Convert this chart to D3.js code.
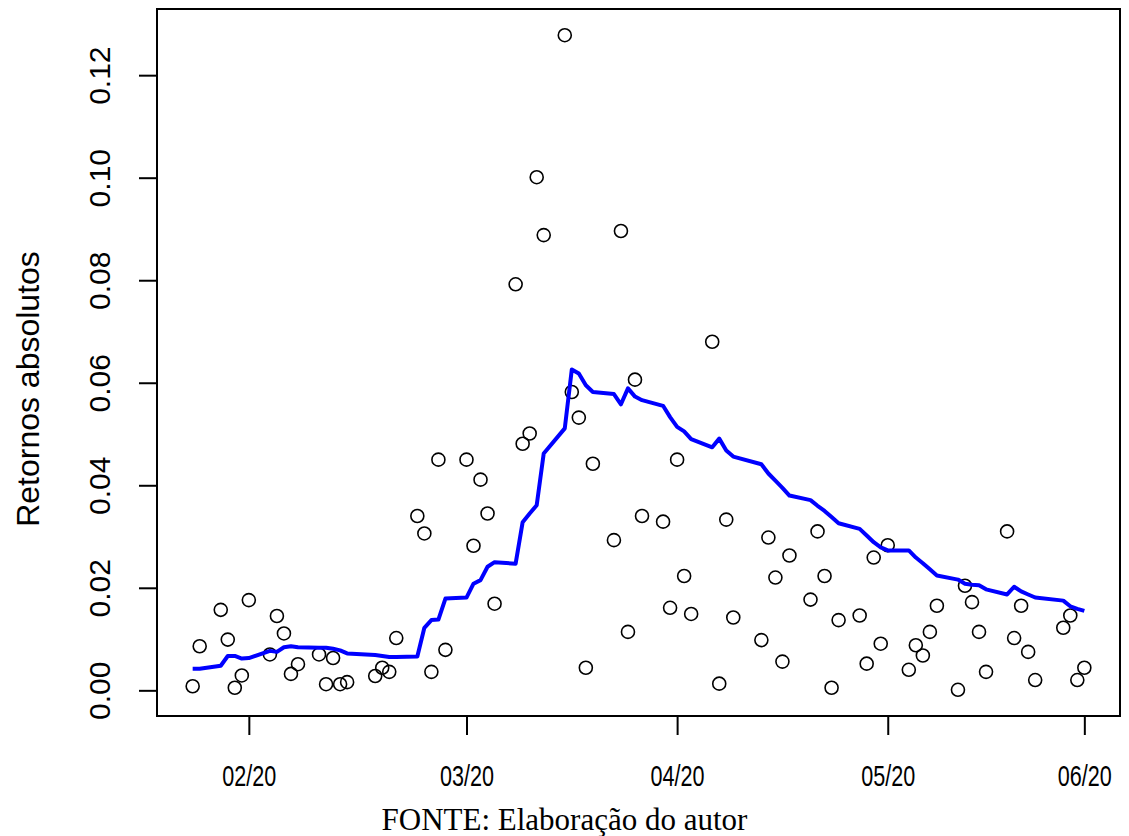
<!DOCTYPE html>
<html>
<head>
<meta charset="utf-8">
<script src="https://cdn.jsdelivr.net/npm/d3@7"></script>
<style>
body{margin:0;background:#fff;}
svg text{fill:#000;}
</style>
</head>
<body>
<div id="myDiv"></div>
<script>
//Trading days shown in the chart
var dates = [
    "2020-01-23","2020-01-24","2020-01-27","2020-01-28","2020-01-29","2020-01-30","2020-01-31",
    "2020-02-03","2020-02-04","2020-02-05","2020-02-06","2020-02-07",
    "2020-02-10","2020-02-11","2020-02-12","2020-02-13","2020-02-14",
    "2020-02-18","2020-02-19","2020-02-20","2020-02-21",
    "2020-02-24","2020-02-25","2020-02-26","2020-02-27","2020-02-28",
    "2020-03-02","2020-03-03","2020-03-04","2020-03-05","2020-03-06",
    "2020-03-09","2020-03-10","2020-03-11","2020-03-12","2020-03-13",
    "2020-03-16","2020-03-17","2020-03-18","2020-03-19","2020-03-20",
    "2020-03-23","2020-03-24","2020-03-25","2020-03-26","2020-03-27",
    "2020-03-30","2020-03-31","2020-04-01","2020-04-02","2020-04-03",
    "2020-04-06","2020-04-07","2020-04-08","2020-04-09",
    "2020-04-13","2020-04-14","2020-04-15","2020-04-16","2020-04-17",
    "2020-04-20","2020-04-21","2020-04-22","2020-04-23","2020-04-24",
    "2020-04-27","2020-04-28","2020-04-29","2020-04-30","2020-05-01",
    "2020-05-04","2020-05-05","2020-05-06","2020-05-07","2020-05-08",
    "2020-05-11","2020-05-12","2020-05-13","2020-05-14","2020-05-15",
    "2020-05-18","2020-05-19","2020-05-20","2020-05-21","2020-05-22",
    "2020-05-26","2020-05-27","2020-05-28","2020-05-29"
];

//Absolute returns (circles)
var absReturns = [
    0.0008,0.0086,0.0157,0.0099,0.0005,0.0029,0.0176,
    0.0070,0.0145,0.0111,0.0032,0.0051,
    0.0070,0.0012,0.0063,0.0012,0.0016,
    0.0028,0.0044,0.0036,0.0102,
    0.0340,0.0306,0.0036,0.0450,0.0079,
    0.0450,0.0282,0.0411,0.0345,0.0169,
    0.0792,0.0481,0.0501,0.1001,0.0888,
    0.1278,0.0582,0.0532,0.0044,0.0442,
    0.0293,0.0896,0.0114,0.0606,0.0340,
    0.0329,0.0161,0.0450,0.0223,0.0149,
    0.0680,0.0013,0.0333,0.0142,
    0.0098,0.0298,0.0220,0.0056,0.0263,
    0.0177,0.0310,0.0223,0.0005,0.0137,
    0.0146,0.0052,0.0259,0.0091,0.0283,
    0.0040,0.0088,0.0068,0.0114,0.0165,
    0.0001,0.0204,0.0172,0.0114,0.0036,
    0.0310,0.0102,0.0165,0.0075,0.0020,
    0.0122,0.0146,0.0020,0.0044
];

//Moving average (blue line)
var movingAvg = [
    0.0042,0.0042,0.0048,0.0067,0.0067,0.0062,0.0063,
    0.0077,0.0075,0.0084,0.0086,0.0084,
    0.0083,0.0083,0.0081,0.0078,0.0072,
    0.0069,0.0067,0.0065,0.0065,
    0.0066,0.0122,0.0137,0.0138,0.0179,
    0.0181,0.0208,0.0215,0.0241,0.0250,
    0.0247,0.0328,0.0345,0.0361,0.0462,
    0.0511,0.0626,0.0618,0.0595,0.0582,
    0.0578,0.0558,0.0589,0.0573,0.0566,
    0.0555,0.0533,0.0514,0.0505,0.0490,
    0.0474,0.0491,0.0468,0.0456,
    0.0441,0.0423,0.0409,0.0395,0.0380,
    0.0371,0.0360,0.0350,0.0338,0.0326,
    0.0315,0.0302,0.0289,0.0279,0.0273,
    0.0273,0.0259,0.0248,0.0236,0.0224,
    0.0216,0.0208,0.0206,0.0205,0.0197,
    0.0187,0.0202,0.0193,0.0187,0.0181,
    0.0175,0.0164,0.0159,0.0155
];

//Axis ticks
var tickDates = ["2020-01-31","2020-03-02","2020-04-01","2020-05-01","2020-05-29"];
var tickLabels = ["02/20","03/20","04/20","05/20","06/20"];
var yTicks = [0, 0.02, 0.04, 0.06, 0.08, 0.10, 0.12];

var parseDate = d3.timeParse("%Y-%m-%d");
var sansFont = "'Liberation Sans', Arial, sans-serif";

//Build rows for the marks
var data = dates.map(function(d, i){
    return {date: parseDate(d), value: absReturns[i], ma: movingAvg[i]};
});

//Plot box (window.top is reserved, so use other names)
var boxLeft = 157, boxRight = 1120, boxTop = 9, boxBottom = 716;

//Scales with 4% padding like R
var xExt = d3.extent(data, function(d){ return d.date; });
var xPad = (xExt[1] - xExt[0]) * 0.04;
var xScale = d3.scaleTime()
    .domain([new Date(+xExt[0] - xPad), new Date(+xExt[1] + xPad)])
    .range([boxLeft, boxRight]);

var yExt = d3.extent(absReturns);
var yPad = (yExt[1] - yExt[0]) * 0.04;
var yScale = d3.scaleLinear()
    .domain([yExt[0] - yPad, yExt[1] + yPad])
    .range([boxBottom, boxTop]);

//Create an SVG Container
var svg = d3.select("#myDiv").append("svg")
    .attr("width", 1129)
    .attr("height", 836)
    .style("background", "#fff");

//Points
svg.append("g").selectAll("circle")
    .data(data)
    .enter()
    .append("circle")
        .attr("cx", function(d){ return xScale(d.date); })
        .attr("cy", function(d){ return yScale(d.value); })
        .attr("r", 6.5)
        .attr("fill", "none")
        .attr("stroke", "#000")
        .attr("stroke-width", 1.6);

//Moving average line
var line = d3.line()
    .x(function(d){ return xScale(d.date); })
    .y(function(d){ return yScale(d.ma); });

svg.append("path")
    .datum(data)
    .attr("d", line)
    .attr("fill", "none")
    .attr("stroke", "#0000ff")
    .attr("stroke-width", 4)
    .attr("stroke-linejoin", "round");

//Box
svg.append("rect")
    .attr("x", boxLeft)
    .attr("y", boxTop)
    .attr("width", boxRight - boxLeft)
    .attr("height", boxBottom - boxTop)
    .attr("fill", "none")
    .attr("stroke", "#000")
    .attr("stroke-width", 2);

//X Axis
var xAxis = d3.axisBottom(xScale)
    .tickValues(tickDates.map(parseDate))
    .tickFormat(function(d, i){ return tickLabels[i]; })
    .tickSize(19);

var gx = svg.append("g")
    .attr("transform", "translate(0," + boxBottom + ")")
    .call(xAxis);
gx.select(".domain").remove();
gx.selectAll("line").attr("stroke", "#000").attr("stroke-width", 2);
//labels are narrower in the picture, so squeeze them a bit
gx.selectAll("text")
    .attr("y", 49)
    .attr("dy", "0.71em")
    .attr("transform", "scale(0.72,1)")
    .style("font-family", sansFont)
    .style("font-size", "30px");

//Y Axis
var yAxis = d3.axisLeft(yScale)
    .tickValues(yTicks)
    .tickFormat(d3.format(".2f"))
    .tickSize(18);

var gy = svg.append("g")
    .attr("transform", "translate(" + boxLeft + ",0)")
    .call(yAxis);
gy.select(".domain").remove();
gy.selectAll("line").attr("stroke", "#000").attr("stroke-width", 2);
gy.selectAll("text")
    .attr("transform", "rotate(-90)")
    .attr("x", 0)
    .attr("y", -47)
    .attr("dy", 0)
    .attr("text-anchor", "middle")
    .style("font-family", sansFont)
    .style("font-size", "30px");

//Y label
svg.append("text")
    .attr("transform", "translate(39,389) rotate(-90)")
    .attr("text-anchor", "middle")
    .style("font-family", sansFont)
    .style("font-size", "32px")
    .text("Retornos absolutos");

//Source caption
svg.append("text")
    .attr("x", 564.5)
    .attr("y", 830)
    .attr("text-anchor", "middle")
    .style("font-family", "'Liberation Serif', 'Times New Roman', serif")
    .style("font-size", "31px")
    .text("FONTE: Elaboração do autor");
</script>
</body>
</html>
